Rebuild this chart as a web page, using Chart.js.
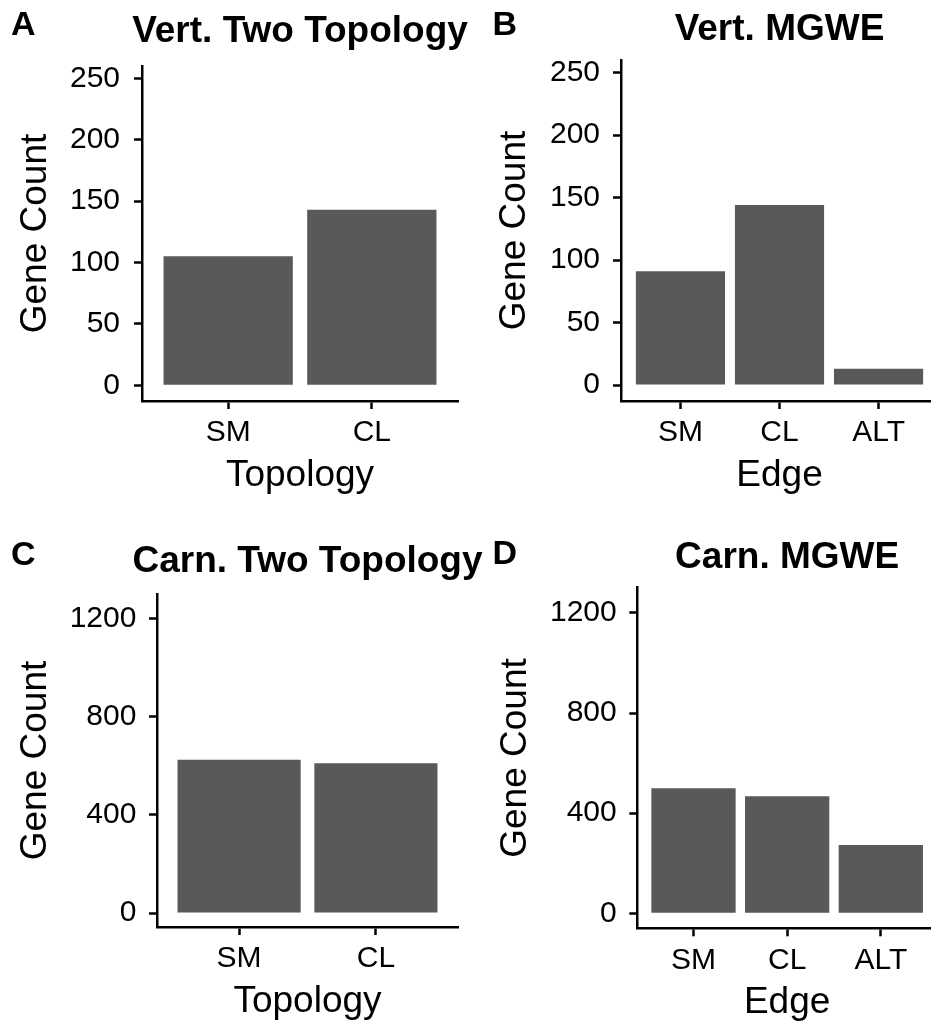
<!DOCTYPE html>
<html>
<head>
<meta charset="utf-8">
<script src="https://cdn.jsdelivr.net/npm/chart.js@4/dist/chart.umd.min.js"></script>
<style>
  html, body { margin: 0; padding: 0; background: #fff; overflow: hidden; }
  body { width: 931px; height: 1027px; position: relative; }
  canvas { position: absolute; }
</style>
</head>
<body>
<canvas id="panelA" width="470" height="515" style="left:0px;top:0px"></canvas>
<canvas id="panelB" width="480" height="515" style="left:465px;top:0px"></canvas>
<canvas id="panelC" width="490" height="512" style="left:0px;top:515px"></canvas>
<canvas id="panelD" width="480" height="512" style="left:465px;top:515px"></canvas>
<script>
// categories
const topologyCats = ['SM', 'CL'];
const edgeCats = ['SM', 'CL', 'ALT'];

// gene counts per panel
const vertTwoTopology = [105, 143];
const vertMGWE = [91, 144, 13];
const carnTwoTopology = [624, 610];
const carnMGWE = [500, 468, 273];

// y tick labels
const vertTicks = [0, 50, 100, 150, 200, 250];
const carnTicks = [0, 400, 800, 1200];

const FONT = '"Liberation Sans", Arial, Helvetica, sans-serif';
const BAR_COLOR = '#595959';

// draws the panel letter and the bold title centred over the plot area
const panelText = {
    id: 'panelText',
    afterDraw(chart, args, opts) {
        const { ctx, chartArea } = chart;
        ctx.save();
        ctx.fillStyle = '#000';
        ctx.textBaseline = 'alphabetic';
        ctx.font = 'bold 34px ' + FONT;
        ctx.textAlign = 'left';
        ctx.fillText(opts.letter, opts.letterX, opts.letterY);
        ctx.font = 'bold 37px ' + FONT;
        ctx.textAlign = 'center';
        ctx.fillText(opts.title, (chartArea.left + chartArea.right) / 2, opts.titleY);
        ctx.restore();
    }
};

function makePanel(id, cats, values, yTicks, xTitle, p) {
    const ctx = document.getElementById(id).getContext('2d');
    return new Chart(ctx, {
        type: 'bar',
        data: {
            datasets: [{
                data: values.map((v, i) => ({ x: i, y: v })),
                backgroundColor: BAR_COLOR,
                borderWidth: 0,
                categoryPercentage: 1,
                barPercentage: 0.9
            }]
        },
        plugins: [panelText],
        options: {
            responsive: false,
            animation: false,
            devicePixelRatio: 1,
            layout: { padding: { left: 0, top: p.padTop, right: p.padRight, bottom: 0 } },
            scales: {
                x: {
                    type: 'linear',
                    offset: false,
                    min: -0.6,
                    max: cats.length - 1 + 0.6,
                    afterBuildTicks: (scale) => { scale.ticks = cats.map((c, i) => ({ value: i })); },
                    afterFit: (scale) => { scale.height = p.xHeight; },
                    ticks: {
                        autoSkip: false,
                        maxRotation: 0,
                        padding: 6,
                        color: '#000',
                        font: { family: FONT, size: 30 },
                        callback: (v) => cats[v]
                    },
                    grid: {
                        offset: false,
                        drawOnChartArea: false,
                        drawTicks: true,
                        tickLength: 8,
                        tickWidth: 2.5,
                        tickColor: '#000'
                    },
                    border: { display: true, color: '#000', width: 2.5 },
                    title: {
                        display: true,
                        text: xTitle,
                        color: '#000',
                        font: { family: FONT, size: 37 },
                        padding: { top: 0, bottom: p.xTitlePad }
                    }
                },
                y: {
                    min: p.yMin,
                    max: p.yMax,
                    afterBuildTicks: (scale) => { scale.ticks = yTicks.map(v => ({ value: v })); },
                    afterFit: (scale) => { scale.width = p.yWidth; },
                    ticks: {
                        padding: p.yTickPad,
                        color: '#000',
                        font: { family: FONT, size: 30 },
                        callback: (v) => String(v)
                    },
                    grid: {
                        drawOnChartArea: false,
                        drawTicks: true,
                        tickLength: 8,
                        tickWidth: 2.5,
                        tickColor: '#000'
                    },
                    border: { display: true, color: '#000', width: 2.5 },
                    title: {
                        display: true,
                        text: 'Gene Count',
                        color: '#000',
                        font: { family: FONT, size: 37 },
                        padding: { top: p.yTitlePad, bottom: 0 }
                    }
                }
            },
            plugins: {
                legend: { display: false },
                tooltip: { enabled: false },
                panelText: { letter: p.letter, letterX: p.letterX, letterY: p.letterY, title: p.title, titleY: p.titleY }
            }
        }
    });
}

makePanel('panelA', topologyCats, vertTwoTopology, vertTicks, 'Topology', {
    padTop: 66, padRight: 12, yWidth: 142, xHeight: 114, yMin: -12.8, yMax: 260,
    yTitlePad: 14, yTickPad: 14, xTitlePad: 17.5,
    letter: 'A', letterX: 11, letterY: 35, title: 'Vert. Two Topology', titleY: 42.3
});

makePanel('panelB', edgeCats, vertMGWE, vertTicks, 'Edge', {
    padTop: 60, padRight: 7, yWidth: 156, xHeight: 114, yMin: -12.8, yMax: 260,
    yTitlePad: 28, yTickPad: 13, xTitlePad: 17.5,
    letter: 'B', letterX: 27.5, letterY: 35, title: 'Vert. MGWE', titleY: 40
});

makePanel('panelC', topologyCats, carnTwoTopology, carnTicks, 'Topology', {
    padTop: 79, padRight: 32, yWidth: 157, xHeight: 100, yMin: -57, yMax: 1299,
    yTitlePad: 14, yTickPad: 12.6, xTitlePad: 3.5,
    letter: 'C', letterX: 11, letterY: 50, title: 'Carn. Two Topology', titleY: 56.7
});

makePanel('panelD', edgeCats, carnMGWE, carnTicks, 'Edge', {
    padTop: 72.7, padRight: 8, yWidth: 172.3, xHeight: 98.7, yMin: -60, yMax: 1301,
    yTitlePad: 29, yTickPad: 12.6, xTitlePad: 2.5,
    letter: 'D', letterX: 27.5, letterY: 49, title: 'Carn. MGWE', titleY: 53.3
});
</script>
</body>
</html>
